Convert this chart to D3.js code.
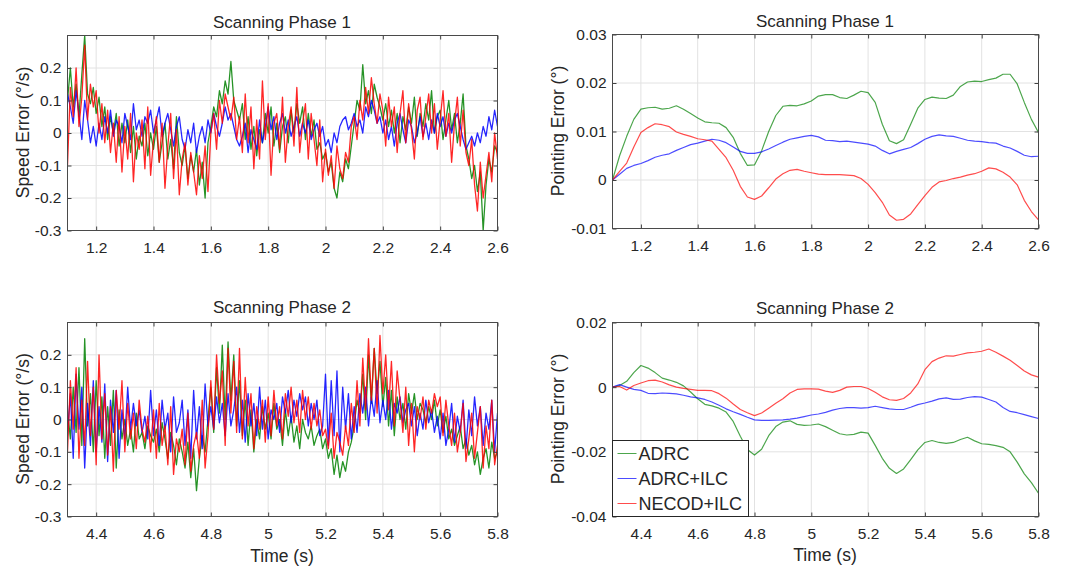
<!DOCTYPE html>
<html>
<head>
<meta charset="utf-8">
<script src="https://cdn.jsdelivr.net/npm/d3@7"></script>
<style>
body { margin: 0; background: #fff; }
svg text { font-family: "Liberation Sans", Arial, sans-serif; fill: #262626; }
</style>
</head>
<body>
<svg id="chart" width="1065" height="568"></svg>
<script>
// series: ADRC, ADRC+ILC, NECOD+ILC
var seriesNames = ["ADRC", "ADRC+ILC", "NECOD+ILC"];
var seriesColors = ["#008000", "#0000ff", "#ff0000"];

// sample grids (s)
var phase1Start = 1.1, phase2Start = 4.3;
var speedStep = 0.01, pointStep = 0.025;

// tick labels
var speedTicks = [-0.3, -0.2, -0.1, 0, 0.1, 0.2];
var point1Ticks = [-0.01, 0, 0.01, 0.02, 0.03];
var point2Ticks = [-0.04, -0.02, 0, 0.02];
var time1Ticks = [1.2, 1.4, 1.6, 1.8, 2, 2.2, 2.4, 2.6];
var time2Ticks = [4.4, 4.6, 4.8, 5, 5.2, 5.4, 5.6, 5.8];

// speed error, phase 1 (unit 0.01 deg/s)
var speed1Adrc = [10,20,8,15,5,18,30,12,9,14, 6,11,2,8,-2,5,0,6,-4,3, -3,4,-6,2,-8,-1,-4,3,-7,0,
  -5,2,-9,-3,3,-8,-2,-11,5,-6, -10,-4,-14,-7,-12,-5,-16,-9,-20,-3, 2,8,5,13,9,16,12,22,10,7,
  4,9,-2,5,-5,2,-7,1,-3,6, 0,8,-4,3,-6,2,5,-3,7,0, 9,3,8,-2,6,-1,4,-5,-3,-8,
  -6,-12,-9,-17,-20,-12,-15,-8,-11,-4, 3,10,7,21,9,13,6,15,11,8, 4,9,2,7,0,6,-3,5,1,8,
  3,11,-1,6,2,9,4,13,0,5, 7,-2,4,10,1,6,-3,3,12,-4, -8,-14,-10,-18,-12,-30,-16,-8,-12,-4, -6];
var speed1Ilc = [12,8,3,13,6,-2,10,4,-3,2, -4,3,-2,5,0,7,-1,4,2,-3, 6,2,-2,9,1,4,-1,5,3,7,
  0,4,8,-1,3,6,1,-4,2,5, -2,-5,1,-3,3,-6,-1,2,-3,4, 0,6,2,-1,3,8,4,6,2,-2,
  -4,-1,3,-6,1,-2,-5,4,-3,2, 8,1,5,-2,3,6,0,4,-1,2, 5,-1,3,0,4,-2,1,3,-1,2,
  -4,-2,-6,0,-3,2,4,5,1,3, 6,2,4,0,8,5,10,7,3,5, 0,4,-2,2,-4,3,6,1,-3,4,
  2,-3,0,5,-1,3,-2,4,0,6, 2,5,-1,3,0,4,6,2,-2,-5, -3,-1,-4,0,-3,2,-1,5,1,7, 2];
var speed1Necod = [-10,14,5,20,2,11,27,4,15,8, 13,0,9,-3,7,-6,3,-9,5,-12, 2,-8,6,-15,0,-5,4,-11,8,-13,
  -2,5,-9,3,-17,-4,6,-14,1,-19, -8,-3,-16,-6,-12,-19,-7,-14,-4,-18, 0,6,-5,10,3,12,8,4,11,-2,
  5,-6,12,-3,8,-11,4,-8,16,-2, 9,-13,3,6,-5,11,-9,2,8,-4, 14,-6,3,9,-8,6,-2,-10,4,-15,
  -5,-13,-7,-17,-4,-11,-14,-6,-9,2, 5,-2,10,4,14,6,17,9,3,12, 7,-4,11,2,8,-6,6,13,-3,9,
  1,-8,7,11,-2,5,12,0,9,-5, 4,13,-1,6,-9,3,11,-4,7,-6, -10,-2,-16,-24,-9,-20,-13,-6,-15,0, -8];

// speed error, phase 2 (unit 0.01 deg/s)
var speed2Adrc = [3,-6,10,-4,16,-8,25,-2,8,-10, 12,-5,7,-12,4,-8,9,-15,3,-6, 0,-8,-3,-10,2,-6,-4,-9,-2,-5,
  -7,-3,-10,-1,-6,-12,-4,-8,-14,-6, -10,-15,-7,-18,-9,-22,-12,-5,-10,0, 10,-4,16,2,23,0,24,6,20,-2,
  12,-5,6,-8,3,-10,0,-6,4,-3, 2,-6,5,-3,0,-8,3,-5,1,-7, -2,-9,0,-4,-6,-2,-8,-5,-3,-9,
  -6,-12,-9,-17,-11,-18,-13,-16,-10,-7, -2,6,2,14,0,20,5,22,8,18, 4,13,-2,9,-5,7,0,5,-3,8,
  2,8,0,5,3,-1,4,0,6,-2, 3,-4,1,-6,-3,-8,-5,-2,-9,-6, -11,-8,-14,-10,-17,-12,-9,-15,-7,-12, -10];
var speed2Ilc = [-5,8,-12,14,-3,10,-15,5,-8,12, -10,4,-7,11,-13,6,-4,9,-12,3, -6,10,-3,5,-2,3,-4,1,-6,9,
  -5,3,-8,6,-3,2,-10,7,-4,-1, 6,-8,3,-12,9,-6,4,-9,11,-2, 4,-3,7,-1,5,-5,8,-2,3,10,
  -4,6,-7,8,-2,5,-5,10,-3,6, -6,3,0,5,-4,7,2,9,-1,6, 1,8,3,7,-2,5,0,6,-5,-2,
  14,-8,12,-5,15,-10,10,-3,8,-6, 4,-4,8,2,10,-2,7,1,12,-1, 6,0,9,-3,5,2,7,-1,3,5,
  -2,4,-5,2,-3,6,-1,3,-4,1, -6,2,-8,-3,5,-7,1,-4,6,-9, 3,-5,7,-2,4,-8,2,-3,6,-10, 2];
var speed2Necod = [-10,12,-3,16,-12,6,-8,18,-5,10, -14,20,-6,8,-11,4,-16,9,-3,12, -10,5,-6,2,-9,6,-3,-7,1,-10,
  3,-12,5,-8,-2,-14,4,-17,-6,-10, -3,-14,2,-16,-8,-4,-12,6,-15,-5, 12,-3,20,5,15,-8,22,2,18,-4,
  22,-6,13,-2,8,-9,4,-3,6,-7, 7,-5,9,-2,4,-6,8,1,10,-1, 6,-4,9,0,7,-3,5,-2,3,-5,
  -3,-9,2,-12,-4,-7,-11,-2,-8,5, -4,12,-2,19,3,25,6,22,2,26, 8,20,3,18,-2,15,6,-4,10,-8,
  5,-10,4,0,7,-3,6,2,8,4, 7,-5,6,-2,-8,2,-10,-4,5,-13, -6,2,-12,-4,4,-15,-2,-9,6,-14, -8];

// pointing error, phase 1 (unit 0.001 deg)
var point1Adrc = [0,5,9,12.5,14.6,14.9,15,14.6,14.8,15.3, 14.6,13.7,12.8,12,11.8,11.7,10.8,8.8,5.5,3,
  3.1,6,10,13.3,15.2,15.4,15.3,15.7,16.3,17.3, 17.6,17.6,17,16.8,17.5,18.3,18,16,11.5,8.1,
  7.5,8.3,11.5,14.8,16.6,17.1,16.9,16.8,17.5,19.3, 20.2,20.4,20.3,20.7,21,21.8,21.8,19.8,16,12.5, 9.8];
var point1Ilc = [0,1.2,2.4,3,3.4,4,4.7,5.1,5.4,6.1, 6.7,7.3,7.6,8,8.4,8.2,7.7,6.8,5.9,5.5,
  5.5,5.8,6.4,7.1,7.8,8.4,8.7,9,9.2,8.9, 8.2,8.1,7.9,8,7.8,7.6,7.4,7,6.1,5.4,
  5.9,6.3,6.7,7.5,8.4,9,9.3,9.1,9,8.6, 8.2,8,7.9,7.7,7.6,7,6.6,5.9,5.1,4.8, 4.9];
var point1Necod = [0,1.8,3.5,6.8,9.8,10.8,11.6,11.4,11,9.9, 9.4,9,8.5,8.3,8,6.3,4.6,2,-1.3,-3.5,
  -4,-3.3,-1.6,0.2,1.3,2,2.2,1.8,1.5,1.2, 1.1,1.1,1.1,1,0.9,0.3,-0.9,-2.6,-4.6,-7.2,
  -8.3,-8.1,-7,-5.1,-3.2,-1.5,-0.4,-0.1,0.3,0.6, 1,1.3,1.8,2.5,2.3,1.6,0.6,-1,-4.2,-6.5, -8.2];

// pointing error, phase 2 (unit 0.001 deg)
var point2Adrc = [0,0.5,1.8,4.5,6.7,5.9,4.5,2.8,2.2,1.5, 0.4,-1.5,-3.6,-5.3,-5.8,-6.5,-7.7,-10.6,-15.2,-19.3,
  -21,-19.2,-15,-12.2,-10.8,-10.4,-11.5,-11.8,-11.7,-11.4, -12.2,-13.3,-14.4,-14.8,-14.6,-13.9,-14.2,-18,-22,-25.1,
  -26.7,-25.3,-22.4,-19.4,-17.1,-16.5,-17.1,-17.4,-17.1,-16.2, -15.5,-16.6,-17.5,-17.7,-18.1,-18.6,-20,-23.2,-26.8,-29.5, -32.8];
var point2Ilc = [0,0.8,0,-0.7,-1,-1.9,-2,-1.8,-1.9,-2.1, -2.5,-3,-3.3,-3.8,-4.6,-5.6,-6.7,-7.6,-8.4,-9.3,
  -10.1,-10.3,-10.3,-10.2,-10.1,-9.9,-9.6,-9.1,-8.6,-8.3, -7.8,-7.1,-6.6,-6.3,-6.3,-6.5,-6.3,-5.9,-6.3,-6.7,
  -6.9,-6.9,-6.2,-5.4,-4.9,-4.3,-3.6,-3.3,-3.8,-3.7, -3.2,-2.9,-3.1,-3.8,-4.6,-6.3,-7.5,-7.9,-8.5,-9.1, -9.7];
var point2Necod = [0,0.2,-0.9,0.5,1.3,2,2.2,1.6,0.7,0, -0.4,-0.7,-1,-1,-1.1,-2,-3.4,-5.2,-6.9,-7.9,
  -8.8,-8,-6.5,-5,-3.6,-1.8,-0.7,-0.5,-0.5,-0.6, -1.2,-1.6,-1,0,0.2,0.2,-0.4,-1.6,-3,-3.9,
  -4.1,-3.5,-1.8,1,5.4,7.9,9,9.7,9.6,10.1, 10.6,10.8,11.1,11.8,10.8,9.6,8.3,6.7,5,3.8, 3.1];

var svg = d3.select("#chart");
var fmt = function(d) { return String(d); };

function panel(o) {
  var g = svg.append("g").attr("transform", "translate(" + (o.left + 0.5) + "," + (o.top + 0.5) + ")");
  var x = d3.scaleLinear().domain(o.xDomain).range([0, o.w]);
  var y = d3.scaleLinear().domain(o.yDomain).range([o.h, 0]);

  // grid
  g.selectAll(".gx").data(o.xTicks).enter().append("line")
    .attr("x1", d => x(d)).attr("x2", d => x(d)).attr("y1", 0).attr("y2", o.h)
    .attr("stroke", "#e2e2e2");
  g.selectAll(".gy").data(o.yTicks).enter().append("line")
    .attr("x1", 0).attr("x2", o.w).attr("y1", d => y(d)).attr("y2", d => y(d))
    .attr("stroke", "#e2e2e2");

  g.append("clipPath").attr("id", "clip" + o.id)
    .append("rect").attr("width", o.w).attr("height", o.h);

  var line = d3.line().x(d => x(d[0])).y(d => y(d[1]));
  o.series.forEach(function(vals, i) {
    var pts = vals.map((v, k) => [o.t0 + k * o.dt, v * o.unit]);
    g.append("path").datum(pts)
      .attr("clip-path", "url(#clip" + o.id + ")")
      .attr("fill", "none")
      .attr("stroke", seriesColors[i])
      .attr("stroke-width", o.lw)
      .attr("stroke-opacity", o.alpha)
      .attr("stroke-linejoin", "round")
      .attr("d", line);
  });

  // axes, ticks pointing inward
  var bx = g.append("g").attr("transform", "translate(0," + o.h + ")")
    .call(d3.axisBottom(x).tickValues(o.xTicks).tickFormat(fmt).tickSizeInner(-4).tickSizeOuter(0).tickPadding(11));
  var ly = g.append("g")
    .call(d3.axisLeft(y).tickValues(o.yTicks).tickFormat(fmt).tickSizeInner(-4).tickSizeOuter(0).tickPadding(6));
  g.append("g").call(d3.axisTop(x).tickValues(o.xTicks).tickFormat("").tickSizeInner(-4).tickSizeOuter(0));
  g.append("g").attr("transform", "translate(" + o.w + ",0)")
    .call(d3.axisRight(y).tickValues(o.yTicks).tickFormat("").tickSizeInner(-4).tickSizeOuter(0));
  g.selectAll(".domain").remove();
  g.selectAll(".tick line").attr("stroke", "#404040");
  [bx, ly].forEach(a => a.attr("font-family", null).attr("font-size", null)
    .selectAll("text").style("font-size", "15.5px"));

  g.append("rect").attr("width", o.w).attr("height", o.h)
    .attr("fill", "none").attr("stroke", "#4a4a4a");

  svg.append("text").attr("x", o.left + o.w / 2).attr("y", o.titleY)
    .attr("text-anchor", "middle").style("font-size", "17px").text(o.title);
  svg.append("text").attr("transform", "translate(" + o.yLabelX + "," + (o.top + o.h / 2) + ") rotate(-90)")
    .attr("text-anchor", "middle").style("font-size", "17.5px").text(o.yLabel);
  if (o.xLabel) {
    svg.append("text").attr("x", o.left + o.w / 2).attr("y", o.xLabelY)
      .attr("text-anchor", "middle").style("font-size", "17.5px").text(o.xLabel);
  }

  if (o.legend) {
    var lg = g.append("g").attr("transform", "translate(0," + (o.h - 76) + ")");
    lg.append("rect").attr("width", 136).attr("height", 76)
      .attr("fill", "#fff").attr("stroke", "#262626");
    seriesNames.forEach(function(name, i) {
      var cy = 13 + i * 25;
      lg.append("line").attr("x1", 5).attr("x2", 24).attr("y1", cy).attr("y2", cy)
        .attr("stroke", seriesColors[i]).attr("stroke-opacity", o.alpha);
      lg.append("text").attr("x", 26).attr("y", cy + 6.5).style("font-size", "18px").text(name);
    });
  }
}

panel({id: "a", left: 67, top: 35, w: 430, h: 195, xDomain: [1.1, 2.6], yDomain: [-0.3, 0.3],
  xTicks: time1Ticks, yTicks: speedTicks, t0: phase1Start, dt: speedStep, unit: 0.01, alpha: 0.85, lw: 1.3,
  series: [speed1Adrc, speed1Ilc, speed1Necod],
  title: "Scanning Phase 1", titleY: 28, yLabel: "Speed Error (°/s)", yLabelX: 28.5});
panel({id: "b", left: 612, top: 34, w: 426, h: 194, xDomain: [1.1, 2.6], yDomain: [-0.01, 0.03],
  xTicks: time1Ticks, yTicks: point1Ticks, t0: phase1Start, dt: pointStep, unit: 0.001, alpha: 0.7, lw: 1.2,
  series: [point1Adrc, point1Ilc, point1Necod],
  title: "Scanning Phase 1", titleY: 27, yLabel: "Pointing Error (°)", yLabelX: 564});
panel({id: "c", left: 67, top: 322, w: 430, h: 194, xDomain: [4.3, 5.8], yDomain: [-0.3, 0.3],
  xTicks: time2Ticks, yTicks: speedTicks, t0: phase2Start, dt: speedStep, unit: 0.01, alpha: 0.85, lw: 1.3,
  series: [speed2Adrc, speed2Ilc, speed2Necod],
  title: "Scanning Phase 2", titleY: 313, yLabel: "Speed Error (°/s)", yLabelX: 28.5,
  xLabel: "Time (s)", xLabelY: 562});
panel({id: "d", left: 612, top: 322, w: 426, h: 194, xDomain: [4.3, 5.8], yDomain: [-0.04, 0.02],
  xTicks: time2Ticks, yTicks: point2Ticks, t0: phase2Start, dt: pointStep, unit: 0.001, alpha: 0.7, lw: 1.2,
  series: [point2Adrc, point2Ilc, point2Necod],
  title: "Scanning Phase 2", titleY: 314, yLabel: "Pointing Error (°)", yLabelX: 564,
  xLabel: "Time (s)", xLabelY: 561, legend: true});
</script>
</body>
</html>
